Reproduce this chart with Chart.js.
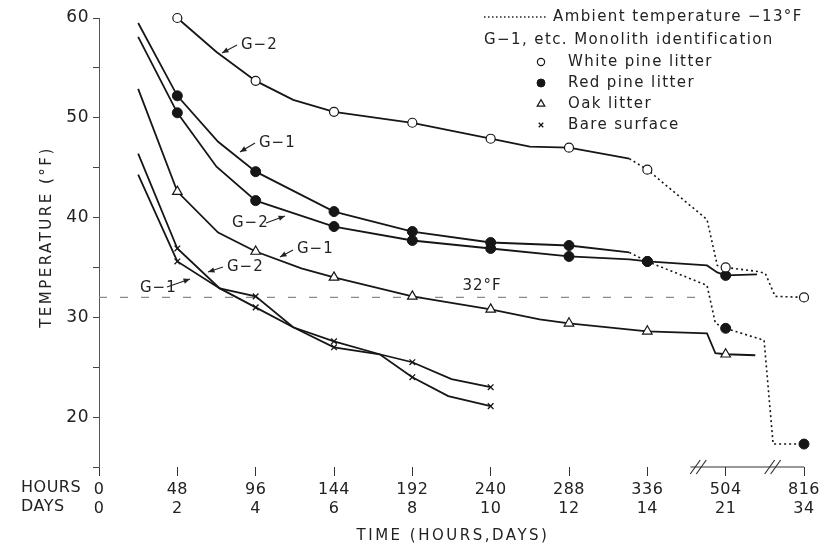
<!DOCTYPE html>
<html lang="en">
<head>
<meta charset="UTF-8">
<title>Soil temperature under litter</title>
<script src="https://cdn.jsdelivr.net/npm/chart.js"></script>
<style>
    * { margin: 0; padding: 0; box-sizing: border-box; }
    body { background: white; width: 826px; height: 547px; overflow: hidden; }
    canvas { display: block; }
</style>
</head>
<body>
<canvas id="tempChart" width="826" height="547"></canvas>
<script>
    // axis ticks (the hour axis is broken after 336 h)
    const HOUR_TICKS = [0, 48, 96, 144, 192, 240, 288, 336, 504, 816];
    const DAY_TICKS = [0, 2, 4, 6, 8, 10, 12, 14, 21, 34];
    const MARKER_HOURS = [48, 96, 144, 192, 240, 288, 336, 504, 816];
    const FREEZING = 32;

    // white pine litter, G-2
    const whiteHours = [48, 72, 96, 119, 144, 192, 240, 264, 288, 325, 336, 464, 486, 504, 630, 662, 701, 816];
    const whiteTemps = [60.0, 56.6, 53.7, 51.8, 50.6, 49.5, 47.9, 47.1, 47.0, 45.9, 44.8, 39.8, 35.2, 35.0, 34.6, 34.4, 32.1, 32.0];
    const whiteDotFrom = 9;

    // red pine litter, G-1
    const redG1Hours = [24, 48, 73, 96, 144, 192, 240, 288, 325, 336, 464, 482, 504, 657, 693, 816];
    const redG1Temps = [59.5, 52.2, 47.6, 44.6, 40.6, 38.6, 37.5, 37.2, 36.5, 35.6, 33.2, 29.4, 28.9, 27.7, 17.3, 17.3];
    const redG1DotFrom = 8;

    // red pine litter, G-2
    const redG2Hours = [24, 48, 72, 96, 144, 192, 240, 288, 325, 336, 464, 486, 504, 629];
    const redG2Temps = [58.1, 50.5, 45.1, 41.7, 39.1, 37.7, 36.9, 36.1, 35.8, 35.6, 35.2, 34.5, 34.2, 34.3];

    // oak litter, G-1
    const oakHours = [24, 48, 73, 96, 124, 144, 192, 240, 270, 288, 336, 464, 482, 504, 622];
    const oakTemps = [52.9, 42.6, 38.5, 36.6, 34.9, 34.0, 32.1, 30.8, 29.8, 29.4, 28.6, 28.4, 26.4, 26.3, 26.2];

    // bare surface, G-2 and G-1
    const bareG2Hours = [24, 48, 74, 96, 119, 144, 172, 192, 214, 240];
    const bareG2Temps = [46.4, 36.9, 32.9, 31.0, 29.0, 27.0, 26.3, 24.0, 22.1, 21.1];
    const bareG1Hours = [24, 48, 74, 96, 119, 144, 172, 192, 216, 240];
    const bareG1Temps = [44.3, 35.6, 32.9, 32.1, 29.0, 27.6, 26.3, 25.5, 23.8, 23.0];

    // piecewise position on the broken axis: one unit per tick interval
    function hourPos(h) {
        for (let i = 0; i < HOUR_TICKS.length - 1; i++) {
            if (h <= HOUR_TICKS[i + 1]) {
                return i + (h - HOUR_TICKS[i]) / (HOUR_TICKS[i + 1] - HOUR_TICKS[i]);
            }
        }
        return HOUR_TICKS.length - 1;
    }

    const INK = '#161616';

    function series(hours, temps, marker, dotFrom) {
        const dotted = ctx => dotFrom !== undefined && ctx.p0DataIndex >= dotFrom;
        return {
            data: hours.map((h, i) => ({ x: hourPos(h), y: temps[i] })),
            borderColor: INK,
            borderWidth: 1.8,
            tension: 0,
            clip: false,
            pointStyle: marker.style,
            pointRadius: ctx => MARKER_HOURS.includes(hours[ctx.dataIndex]) ? marker.radius : 0,
            pointBackgroundColor: marker.fill,
            pointBorderColor: INK,
            pointBorderWidth: marker.border,
            segment: {
                borderDash: ctx => dotted(ctx) ? [2, 3] : undefined,
                borderWidth: ctx => dotted(ctx) ? 1.6 : 1.8
            }
        };
    }

    const OPEN = { style: 'circle', radius: 4.5, fill: 'white', border: 1.2 };
    const FILLED = { style: 'circle', radius: 5, fill: INK, border: 1 };
    const TRI = { style: 'triangle', radius: 5.5, fill: 'white', border: 1.2 };
    const CROSS = { style: 'crossRot', radius: 4, fill: 'white', border: 1.3 };

    // labels of monoliths: text position, arrow start, arrow tip (pixels)
    const tags = [
        { t: 'G\u22122', x: 241, y: 45, from: [237, 45], to: [222, 53] },
        { t: 'G\u22121', x: 259, y: 143, from: [255, 143], to: [240, 152] },
        { t: 'G\u22122', x: 232, y: 223, from: [266, 223], to: [285, 216] },
        { t: 'G\u22121', x: 297, y: 249, from: [293, 250], to: [280, 257] },
        { t: 'G\u22122', x: 227, y: 267, from: [223, 267], to: [208, 272] },
        { t: 'G\u22121', x: 140, y: 288, from: [167, 287], to: [190, 279] }
    ];

    function arrow(ctx, from, to) {
        ctx.beginPath();
        ctx.moveTo(from[0], from[1]);
        ctx.lineTo(to[0], to[1]);
        ctx.stroke();
        const a = Math.atan2(to[1] - from[1], to[0] - from[0]);
        ctx.beginPath();
        ctx.moveTo(to[0], to[1]);
        ctx.lineTo(to[0] - 7 * Math.cos(a - 0.4), to[1] - 7 * Math.sin(a - 0.4));
        ctx.lineTo(to[0] - 7 * Math.cos(a + 0.4), to[1] - 7 * Math.sin(a + 0.4));
        ctx.closePath();
        ctx.fill();
    }

    const decorations = {
        id: 'decorations',
        beforeDraw(chart) {
            chart.ctx.letterSpacing = '0.5px';
        },
        beforeDatasetsDraw(chart) {
            const { ctx, scales: { x, y } } = chart;
            // 32 F reference line
            ctx.save();
            ctx.strokeStyle = '#8a8a8a';
            ctx.lineWidth = 1.2;
            ctx.setLineDash([8, 13]);
            const yf = y.getPixelForValue(FREEZING);
            ctx.beginPath();
            ctx.moveTo(x.getPixelForValue(0), yf);
            ctx.lineTo(x.getPixelForValue(7.7), yf);
            ctx.stroke();
            ctx.restore();
        },
        afterDraw(chart) {
            const { ctx, scales: { x, y }, chartArea } = chart;
            ctx.save();
            ctx.fillStyle = '#222';
            ctx.strokeStyle = '#222';
            ctx.textBaseline = 'middle';
            ctx.font = '15px "DejaVu Sans"';
            ctx.letterSpacing = '1px';

            // 32 F label
            ctx.textAlign = 'center';
            ctx.fillText('32\u00b0F', 482, y.getPixelForValue(FREEZING) - 11);

            // monolith tags
            ctx.lineWidth = 1.1;
            tags.forEach(g => {
                ctx.textAlign = 'left';
                ctx.fillText(g.t, g.x, g.y);
                arrow(ctx, g.from, g.to);
            });

            // legend
            ctx.letterSpacing = '1.4px';
            ctx.textAlign = 'left';
            ctx.save();
            ctx.setLineDash([1.5, 2.5]);
            ctx.lineWidth = 1.5;
            ctx.beginPath();
            ctx.moveTo(484, 17);
            ctx.lineTo(548, 17);
            ctx.stroke();
            ctx.restore();
            ctx.fillText('Ambient temperature \u221213\u00b0F', 553, 17);
            ctx.fillText('G\u22121, etc. Monolith identification', 484, 40);
            const legendRows = [
                [OPEN, 'White pine litter'],
                [FILLED, 'Red pine litter'],
                [TRI, 'Oak litter'],
                [CROSS, 'Bare surface']
            ];
            legendRows.forEach(([m, label], i) => {
                const ly = 62 + i * 21;
                ctx.save();
                ctx.fillStyle = m.fill;
                ctx.strokeStyle = INK;
                ctx.lineWidth = m.border;
                Chart.helpers.drawPoint(ctx, {
                    pointStyle: m.style, radius: m.radius * 0.8, borderWidth: m.border
                }, 541, ly);
                ctx.restore();
                ctx.fillText(label, 568, ly);
            });

            // axis row captions
            ctx.letterSpacing = '0.5px';
            ctx.font = '16px "DejaVu Sans"';
            ctx.fillText('HOURS', 21, 488);
            ctx.fillText('DAYS', 21, 507);

            // axis titles
            ctx.letterSpacing = '2.5px';
            ctx.textAlign = 'center';
            ctx.font = '15px "DejaVu Sans"';
            ctx.fillText('TIME (HOURS,DAYS)', 453, 536);
            ctx.save();
            ctx.translate(47, 237);
            ctx.rotate(-Math.PI / 2);
            ctx.fillText('TEMPERATURE (\u00b0F)', 0, 0);
            ctx.restore();

            // broken axis segment with break marks
            const yb = chartArea.bottom;
            ctx.strokeStyle = '#333';
            ctx.lineWidth = 1.2;
            ctx.beginPath();
            ctx.moveTo(x.getPixelForValue(7.55), yb);
            ctx.lineTo(x.getPixelForValue(9), yb);
            ctx.stroke();
            [7.65, 8.6].forEach(p => {
                const bx = x.getPixelForValue(p);
                [-3, 3].forEach(o => {
                    ctx.beginPath();
                    ctx.moveTo(bx + o - 5, yb + 7);
                    ctx.lineTo(bx + o + 5, yb - 7);
                    ctx.stroke();
                });
            });
            ctx.restore();
        }
    };

    Chart.defaults.font.family = '"DejaVu Sans", sans-serif';
    Chart.defaults.color = '#222';

    new Chart(document.getElementById('tempChart'), {
        type: 'line',
        data: {
            datasets: [
                series(whiteHours, whiteTemps, OPEN, whiteDotFrom),
                series(redG1Hours, redG1Temps, FILLED, redG1DotFrom),
                series(redG2Hours, redG2Temps, FILLED),
                series(oakHours, oakTemps, TRI),
                series(bareG2Hours, bareG2Temps, CROSS),
                series(bareG1Hours, bareG1Temps, CROSS)
            ]
        },
        options: {
            responsive: false,
            animation: false,
            devicePixelRatio: 1,
            layout: { padding: { top: 18, right: 22, left: 0, bottom: 0 } },
            plugins: { legend: { display: false }, tooltip: { enabled: false } },
            scales: {
                x: {
                    type: 'linear',
                    min: 0,
                    max: HOUR_TICKS.length - 1,
                    afterBuildTicks: axis => { axis.ticks = HOUR_TICKS.map((h, i) => ({ value: i })); },
                    afterFit: axis => { axis.height = 80; },
                    border: { display: false },
                    grid: { drawOnChartArea: false, drawTicks: true, tickLength: 9, color: '#333', lineWidth: 1 },
                    ticks: {
                        autoSkip: false,
                        maxRotation: 0,
                        padding: 4,
                        font: { size: 16 },
                        color: '#222',
                        callback: v => [String(HOUR_TICKS[v]), String(DAY_TICKS[v])]
                    }
                },
                y: {
                    min: 15,
                    max: 60,
                    afterBuildTicks: axis => {
                        axis.ticks = [];
                        for (let v = 15; v <= 60; v += 5) axis.ticks.push({ value: v });
                    },
                    afterFit: axis => { axis.width = 99; },
                    border: { display: true, color: '#555', width: 1 },
                    grid: { drawOnChartArea: false, drawTicks: true, tickLength: 6, color: '#444' },
                    ticks: {
                        padding: 4,
                        font: { size: 17 },
                        color: '#222',
                        callback: v => v % 10 === 0 ? String(v) : ''
                    }
                }
            }
        },
        plugins: [decorations]
    });
</script>
</body>
</html>
